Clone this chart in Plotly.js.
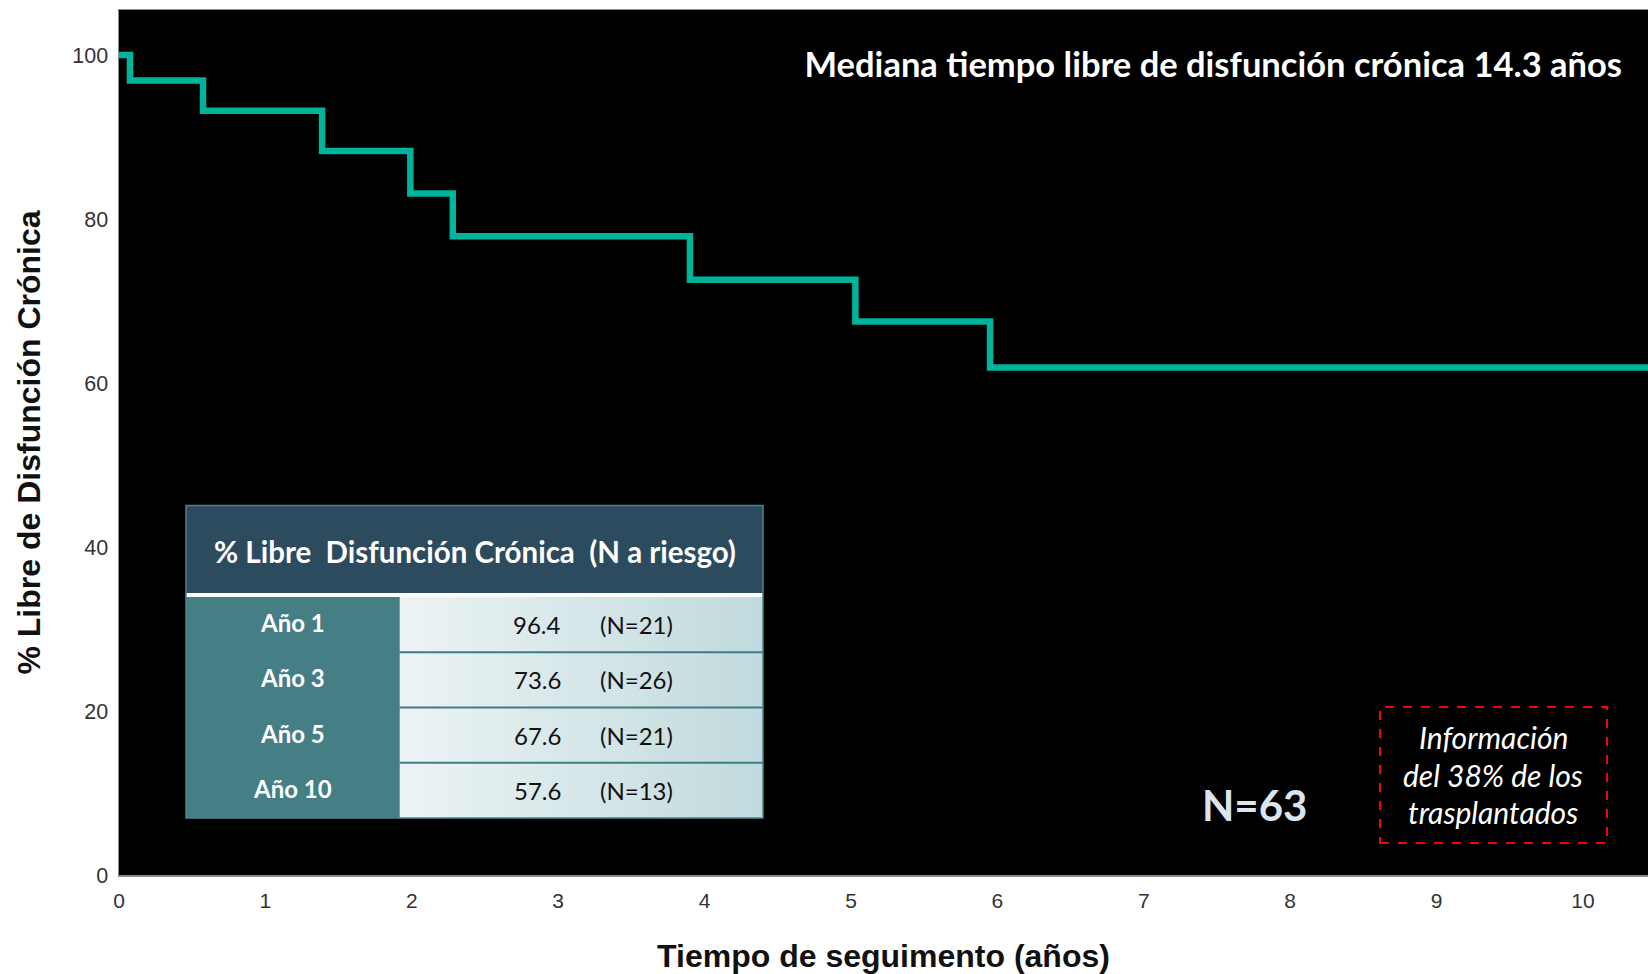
<!DOCTYPE html>
<html><head><meta charset="utf-8">
<script src="https://cdn.plot.ly/plotly-3.0.1.min.js"></script>
<style>html,body{margin:0;padding:0;background:#fff}#chart{width:1648px;height:974px}</style>
</head><body><div id="chart"></div>
<script>
// ---- data ----
const stepTimes    = [0, 0.075, 0.574, 1.387, 1.99, 2.28, 3.90, 5.03, 5.95, 10.45];
const stepSurvival = [100, 96.9, 93.2, 88.3, 83.1, 77.9, 72.6, 67.5, 61.9, 61.9];
const xTicks = [0, 1, 2, 3, 4, 5, 6, 7, 8, 9, 10];
const yTicks = [0, 20, 40, 60, 80, 100];
const tableRows = ['Año 1', 'Año 3', 'Año 5', 'Año 10'];
const tableSurvival = ['96.4', '73.6', '67.6', '57.6'];
const tableAtRisk = [21, 26, 21, 13];
const tableHeader = '% Libre\u00a0\u00a0Disfunción Crónica\u00a0\u00a0(N a riesgo)';
const chartTitle = 'Mediana tiempo libre de disfunción crónica 14.3 años';
const totalN = 'N=63';
const noteLines = ['Información', 'del 38% de los', 'trasplantados'];

// ---- geometry (pixels) ----
const W = 1648, H = 974, L = 119, R = 0, T = 10, B = 99;
const PW = W - L - R, PH = H - T - B;
const px = x => (x - L) / PW;
const py = y => (H - B - y) / PH;
const xMax = PW / 146.4, yMax = PH / 8.2;

const shapes = [];
const annotations = [];
const calibri = 'Lato, "Open Sans", sans-serif';
const arial = '"Liberation Sans", Arial, sans-serif';

// table geometry
const tL = 186, tR = 763, tTop = 505.5, hdrBot = 593, bodyTop = 597, tBot = 818, colX = 399.5;
shapes.push({type:'rect', xref:'paper', yref:'paper', x0:px(tL), x1:px(tR), y0:py(hdrBot), y1:py(tTop), fillcolor:'#2d4b5e', line:{width:0}});
shapes.push({type:'rect', xref:'paper', yref:'paper', x0:px(tL), x1:px(tR), y0:py(bodyTop), y1:py(hdrBot), fillcolor:'#ffffff', line:{width:0}});
shapes.push({type:'rect', xref:'paper', yref:'paper', x0:px(tL), x1:px(colX), y0:py(tBot), y1:py(bodyTop), fillcolor:'#457e84', line:{width:0}});
// light gradient cells (each strip runs to the right edge, so no seams)
const c0 = [236, 243, 244], c1 = [193, 218, 221];
const nStrip = 40;
for (let i = 0; i < nStrip; i++) {
  const f = i / (nStrip - 1);
  const c = c0.map((v, k) => Math.round(v + (c1[k] - v) * f));
  const xa = colX + (tR - colX) * i / nStrip;
  shapes.push({type:'rect', xref:'paper', yref:'paper', x0:px(xa), x1:px(tR), y0:py(tBot), y1:py(bodyTop), fillcolor:`rgb(${c[0]},${c[1]},${c[2]})`, line:{width:0}});
}
const rowH = (tBot - bodyTop) / tableRows.length;
for (let i = 1; i < tableRows.length; i++) {
  const yy = bodyTop + rowH * i;
  shapes.push({type:'line', xref:'paper', yref:'paper', x0:px(colX), x1:px(tR), y0:py(yy), y1:py(yy), line:{color:'#3f7d84', width:2}});
}
shapes.push({type:'rect', xref:'paper', yref:'paper', x0:px(tL), x1:px(tR), y0:py(tBot), y1:py(tTop), line:{color:'#4b858c', width:1.5}});

annotations.push({xref:'paper', yref:'paper', x:px((tL + tR) / 2), y:py(551), text:'<b>' + tableHeader + '</b>', showarrow:false, font:{family:calibri, size:29.5, color:'#ffffff'}, xanchor:'center', yanchor:'middle'});
tableRows.forEach((r, i) => {
  const yc = bodyTop + rowH * (i + 0.5) - 2;
  annotations.push({xref:'paper', yref:'paper', x:px((tL + colX) / 2), y:py(yc), text:'<b>' + r + '</b>', showarrow:false, font:{family:calibri, size:24, color:'#ffffff'}, xanchor:'center', yanchor:'middle'});
  annotations.push({xref:'paper', yref:'paper', x:px(537), y:py(yc + 2), text:tableSurvival[i], showarrow:false, font:{family:calibri, size:24, color:'#111111'}, xanchor:'center', yanchor:'middle'});
  annotations.push({xref:'paper', yref:'paper', x:px(636), y:py(yc + 2), text:'(N=' + tableAtRisk[i] + ')', showarrow:false, font:{family:calibri, size:24, color:'#111111'}, xanchor:'center', yanchor:'middle'});
});

// N=63
annotations.push({xref:'paper', yref:'paper', x:px(1254), y:py(805), text:'<b>' + totalN + '</b>', showarrow:false, font:{family:calibri, size:42, color:'#dbe5ee'}, xanchor:'center', yanchor:'middle'});

// dashed note box
shapes.push({type:'rect', xref:'paper', yref:'paper', x0:px(1380), x1:px(1607), y0:py(843), y1:py(707), line:{color:'#ff0000', width:2, dash:'dash'}});
noteLines.forEach((t, i) => {
  annotations.push({xref:'paper', yref:'paper', x:px(1493), y:py(737 + 37.5 * i), text:'<i>' + t + '</i>', showarrow:false, font:{family:calibri, size:30, color:'#ffffff'}, xanchor:'center', yanchor:'middle'});
});

const trace = {
  x: stepTimes, y: stepSurvival, type:'scatter', mode:'lines',
  line:{shape:'hv', color:'#00b39b', width:6.5}, hoverinfo:'skip', showlegend:false
};

const layout = {
  width: W, height: H,
  margin: {l:L, r:R, t:T, b:B},
  paper_bgcolor: '#ffffff', plot_bgcolor: '#000000',
  title: {text:'<b>' + chartTitle + '</b>', font:{family:calibri, size:34.5, color:'#ffffff'},
          xref:'container', yref:'container', x:1622 / W, xanchor:'right', y:1 - 65 / H, yanchor:'middle'},
  xaxis: {
    range:[0, xMax], tickvals:xTicks, ticktext:xTicks.map(String),
    showgrid:false, zeroline:false, showline:true, linecolor:'#8a8a8a', linewidth:1.5, mirror:true,
    ticks:'outside', ticklen:6, tickcolor:'rgba(0,0,0,0)',
    tickfont:{family:arial, size:21, color:'#333333'},
    title:{text:'<b>Tiempo de seguimento (años)</b>', font:{family:arial, size:32, color:'#111111'}, standoff:36},
    fixedrange:true
  },
  yaxis: {
    range:[0, yMax], tickvals:yTicks, ticktext:yTicks.map(String),
    showgrid:false, zeroline:false, showline:true, linecolor:'#8a8a8a', linewidth:1.5, mirror:true,
    ticks:'outside', ticklen:5, tickcolor:'rgba(0,0,0,0)',
    tickfont:{family:arial, size:21.5, color:'#333333'},
    title:{text:'<b>% Libre de Disfunción Crónica</b>', font:{family:arial, size:32, color:'#111111'}, standoff:22},
    fixedrange:true
  },
  shapes: shapes,
  annotations: annotations
};

Plotly.newPlot('chart', [trace], layout, {displayModeBar:false, staticPlot:true});
</script>
</body></html>
